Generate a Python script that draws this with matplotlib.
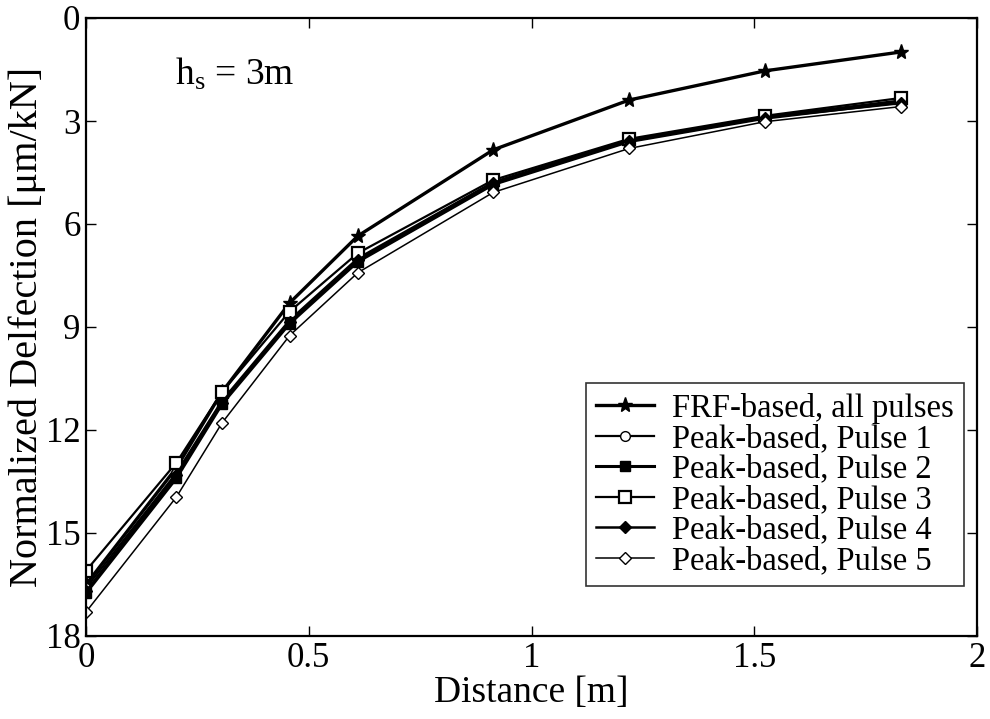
import matplotlib
matplotlib.use("Agg")
import matplotlib.pyplot as plt

plt.rcParams['font.family'] = ['Liberation Serif', 'DejaVu Serif']
plt.rcParams['mathtext.fontset'] = 'custom'
plt.rcParams['mathtext.rm'] = 'Liberation Serif'
plt.rcParams['mathtext.it'] = 'Liberation Serif'

distance = [0.0, 0.203, 0.305, 0.457, 0.610, 0.914, 1.219, 1.524, 1.829]
frf_all = [16.5, 13.1, 10.9, 8.3, 6.35, 3.84, 2.39, 1.54, 0.99]
pulse1 = [16.6, 13.25, 11.15, 8.8, 7.0, 4.78, 3.55, 2.88, 2.4]
pulse2 = [16.75, 13.4, 11.25, 8.9, 7.1, 4.85, 3.6, 2.92, 2.45]
pulse3 = [16.1, 12.95, 10.9, 8.55, 6.85, 4.72, 3.52, 2.85, 2.33]
pulse4 = [16.7, 13.3, 11.2, 8.85, 7.05, 4.8, 3.58, 2.9, 2.48]
pulse5 = [17.3, 13.95, 11.8, 9.25, 7.42, 5.08, 3.8, 3.02, 2.58]
labels = ['FRF-based, all pulses', 'Peak-based, Pulse 1', 'Peak-based, Pulse 2',
          'Peak-based, Pulse 3', 'Peak-based, Pulse 4', 'Peak-based, Pulse 5']

fig = plt.figure(figsize=(9.9, 7.19), dpi=100)
ax = fig.add_axes([86/990, 1-636/719, 891/990, 618/719])

ax.plot(distance, frf_all, '-', color='black', lw=2.4, marker='*', ms=11, mfc='black', mec='black', label=labels[0])
ax.plot(distance, pulse1, '-', color='black', lw=1.6, marker='o', ms=7, mfc='white', mec='black', label=labels[1])
ax.plot(distance, pulse2, '-', color='black', lw=2.2, marker='s', ms=7.5, mfc='black', mec='black', label=labels[2])
ax.plot(distance, pulse3, '-', color='black', lw=1.6, marker='s', ms=8, mfc='white', mec='black', mew=1.6, label=labels[3])
ax.plot(distance, pulse4, '-', color='black', lw=1.8, marker='D', ms=6.5, mfc='black', mec='black', label=labels[4])
ax.plot(distance, pulse5, '-', color='black', lw=1.1, marker='D', ms=6.5, mfc='white', mec='black', label=labels[5])

ax.set_xlim(0, 2)
ax.set_ylim(18, 0)
ax.set_xticks([0, 0.5, 1, 1.5, 2])
ax.set_xticklabels(['0', '0.5', '1', '1.5', '2'])
ax.set_yticks([0, 3, 6, 9, 12, 15, 18])
ax.tick_params(direction='in', top=True, right=True, length=7, width=1, labelsize=25, pad=4)
for s in ax.spines.values():
    s.set_linewidth(1.6)

ax.set_xlabel('Distance [m]', fontsize=27, labelpad=1)
ax.set_ylabel('Normalized Delfection [\u03bcm/kN]', fontsize=29, labelpad=0)

ax.text(0.2, 1.65, 'h$_\\mathregular{s}$ = 3m', fontsize=27, va='center', ha='left')

leg = ax.legend(loc='lower right', bbox_to_anchor=(0.9854, 0.0809), fontsize=23.5,
                frameon=True, fancybox=False, edgecolor='black', borderaxespad=0.0,
                handlelength=1.8, labelspacing=0.0, borderpad=0.3, handletextpad=0.55)
leg.get_frame().set_linewidth(1.2)

fig.savefig('out.png', dpi=100)
